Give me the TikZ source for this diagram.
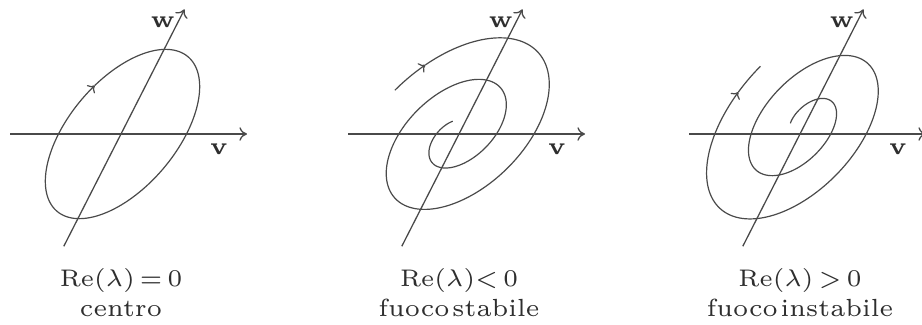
\documentclass[tikz,border=0pt]{standalone}
\usetikzlibrary{arrows.meta}
\definecolor{ink}{HTML}{4A4A4A}
\definecolor{txt}{HTML}{2E2E2E}
\newcommand{\PanelAxes}[2]{%
  \begin{scope}[shift={(#1,190)}]
    \coordinate (#2vs) at (-111,0);
    \coordinate (#2ve) at (126,0);
    \coordinate (#2ws) at ({-126*0.454},{-126*0.891});
    \coordinate (#2we) at ({140*0.454},{140*0.891});
    \draw[axis] (#2vs) -- (#2ve);
    \draw[axis] (#2ws) -- (#2we);
    \node[veclab] (#2v) at (98,-15) {$\mathbf{v}$};
    \node[veclab] (#2w) at (42,112) {$\mathbf{w}$};
  \end{scope}}
\newcommand{\RelSp}{\mskip3mu}
\begin{document}
\begin{tikzpicture}[x=0.25pt,y=0.25pt,
  axis/.style={line width=0.32pt, draw=ink, -{To[length=1.9pt,width=3.4pt]}},
  crv/.style={line width=0.3pt, draw=ink},
  crvarr/.style={crv, -{To[length=1.5pt,width=2.8pt]}},
  veclab/.style={font=\fontsize{6.4}{7}\selectfont, text=txt, inner sep=0pt},
  lbl/.style={font=\fontsize{6.2}{7}\selectfont, text=txt, inner sep=0pt, anchor=base},
  skew/.style={cm={1,0,0.454,0.891,(0,0)}}]
\useasboundingbox (0,0) rectangle (922,324);

% ---- panel 1: centro
\PanelAxes{121}{a}
\begin{scope}[shift={(121,190)}, skew]
  \draw[crvarr] plot[domain=505:145, samples=240, variable=\t, smooth]
    ({1.5+64*cos(\t)},{95*sin(\t)});
\end{scope}
\node[lbl] (a1) at (121,38) {$\mathrm{Re}(\lambda)\RelSp{=}\RelSp0$};
\node[lbl] (a2) at (121,8) {centro};

% ---- panel 2: fuoco stabile
\PanelAxes{459}{b}
\begin{scope}[shift={(459,190)}, skew]
  \draw[crvarr] plot[domain=155:137, samples=10, variable=\t, smooth]
    ({-2+77*(1+\t/738)*cos(\t)},{96*(1+\t/738)*sin(\t)});
  \draw[crv] plot[domain=137:-587, samples=320, variable=\t, smooth]
    ({-2+77*(1+\t/738)*cos(\t)},{96*(1+\t/738)*sin(\t)});
\end{scope}
\node[lbl] (b1) at (459,38) {$\mathrm{Re}(\lambda){<}\RelSp0$};
\node[lbl] (b2) at (459,8) {fuoco\hspace{0.12em}stabile};

% ---- panel 3: fuoco instabile
\PanelAxes{800}{c}
\begin{scope}[shift={(800,190)}, skew]
  \draw[crvarr] plot[domain=170:-559, samples=320, variable=\t, smooth]
    ({-1+31.2*(1-\t/314.1)*cos(\t)},{8.6+42.6*(1-\t/314.1)*sin(\t)});
  \draw[crv] plot[domain=-559:-574, samples=10, variable=\t, smooth]
    ({-1+31.2*(1-\t/314.1)*cos(\t)},{8.6+42.6*(1-\t/314.1)*sin(\t)});
\end{scope}
\node[lbl] (c1) at (800,38) {$\mathrm{Re}(\lambda)\RelSp{>}\RelSp0$};
\node[lbl] (c2) at (800,8) {fuoco\hspace{0.12em}instabile};
\end{tikzpicture}
\end{document}
